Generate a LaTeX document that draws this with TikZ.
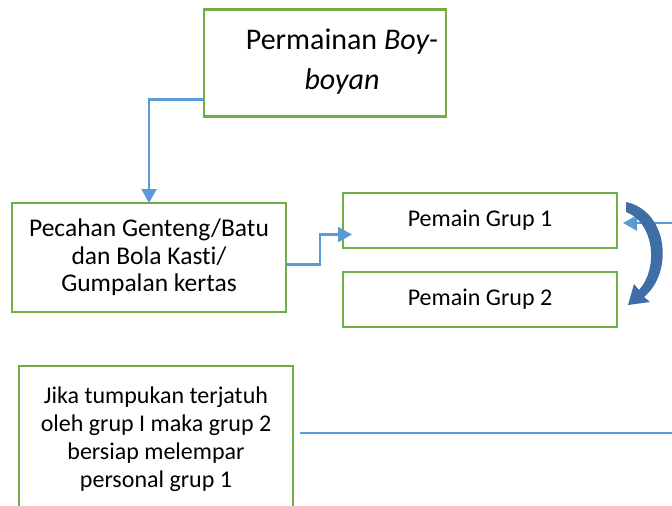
\documentclass[tikz,border=0pt]{standalone}
\usepackage{fontspec}
\setmainfont[Ligatures=NoCommon]{Carlito}
\usetikzlibrary{arrows.meta,calc}
\definecolor{boxgreen}{RGB}{112,173,71}
\definecolor{linkblue}{RGB}{91,155,213}
\definecolor{curveblue}{RGB}{62,110,165}
\tikzset{
  gbox/.style={draw=boxgreen,line width=2.2pt,fill=white,align=center,inner sep=0pt,outer sep=0pt},
  conn/.style={draw=linkblue,line width=2.4pt,-{Triangle[length=14pt,width=15pt]}},
  plainline/.style={draw=linkblue,line width=2.2pt},
  txt/.style={font=\fontsize{25.5}{27.5}\selectfont},
  stxt/.style={font=\fontsize{24}{28}\selectfont}
}
\begin{document}
\begin{tikzpicture}[x=1pt,y=-1pt]
\useasboundingbox (0,0) rectangle (672,506);
\node[gbox,minimum width=242pt,minimum height=107pt] (top) at (325,63) {};
\node[align=center,font=\fontsize{30}{40}\selectfont] (ttxt) at (342,62) {Permainan \textit{Boy-}\\\textit{boyan}};
\node[gbox,txt,minimum width=274pt,minimum height=109pt] (left) at (149,257.5) {Pecahan Genteng/Batu\\dan Bola Kasti/\\Gumpalan kertas};
\node[gbox,stxt,minimum width=274pt,minimum height=55pt] (p1) at (480,220.5) {Pemain Grup 1};
\node[gbox,stxt,minimum width=274pt,minimum height=55pt] (p2) at (480,299.5) {Pemain Grup 2};
\node[gbox,minimum width=274pt,minimum height=170pt] (bbox) at (156,451) {};
\node[stxt,align=center] (btxt) at (156,439) {Jika tumpukan terjatuh\\oleh grup I maka grup 2\\bersiap melempar\\personal grup 1};
% connectors
\draw[conn] ($(top.south west)+(0,-17)$) -| (left.north);
\draw[conn] ($(left.east)+(0,7)$) -- ++(34,0) |- ($(p1.west)+(9,14)$);
\coordinate (rin) at (672,223);
\draw[conn] (rin) -- ($(p1.east)+(6,2.5)$);
\coordinate (bend) at (672,433);
\draw[plainline] ($(bbox.north east)+(7,67)$) -- (bend);
% curved block arrow
\fill[curveblue] (626,202) .. controls (668,211) and (674,272) .. (644,297) -- (650,302) -- (628,305) -- (634,284) -- (639,290) .. controls (659,268) and (654,222) .. (626,212) -- cycle;
\end{tikzpicture}
\end{document}
